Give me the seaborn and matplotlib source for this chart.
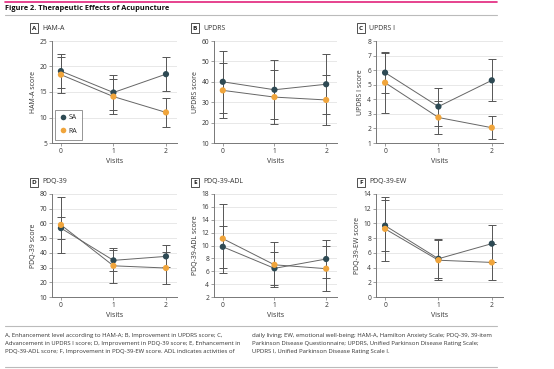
import pandas as pd
import matplotlib.pyplot as plt
import seaborn as sns
from matplotlib.patches import Rectangle

visits = [0, 1, 2]
groups = ["SA", "RA"]

ham_sa = [19.1, 14.9, 18.5]
ham_sa_sd = [3.3, 3.5, 3.3]
ham_ra = [18.4, 14.1, 11.0]
ham_ra_sd = [3.5, 3.5, 2.9]

updrs_sa = [40.0, 36.1, 38.8]
updrs_sa_sd = [15.1, 14.5, 14.7]
updrs_ra = [35.8, 32.5, 31.1]
updrs_ra_sd = [13.6, 13.2, 12.4]

updrs1_sa = [5.83, 3.5, 5.3]
updrs1_sa_sd = [1.42, 1.3, 1.45]
updrs1_ra = [5.14, 2.75, 2.05]
updrs1_ra_sd = [2.07, 1.15, 0.8]

pdq_sa = [56.8, 34.9, 37.6]
pdq_sa_sd = [7.3, 7.0, 7.5]
pdq_ra = [59.0, 31.2, 29.7]
pdq_ra_sd = [19.0, 11.8, 11.2]

adl_sa = [9.8, 6.45, 7.9]
adl_sa_sd = [3.3, 2.55, 3.0]
adl_ra = [11.07, 7.0, 6.4]
adl_ra_sd = [5.37, 3.5, 3.45]

ew_sa = [9.7, 5.2, 7.25]
ew_sa_sd = [3.5, 2.65, 2.5]
ew_ra = [9.26, 5.0, 4.7]
ew_ra_sd = [4.3, 2.7, 2.45]

panels = [
    ("A", "HAM-A", "HAM-A score", ham_sa, ham_sa_sd, ham_ra, ham_ra_sd, (5, 25), [5, 10, 15, 20, 25]),
    ("B", "UPDRS", "UPDRS score", updrs_sa, updrs_sa_sd, updrs_ra, updrs_ra_sd, (10, 60), [10, 20, 30, 40, 50, 60]),
    ("C", "UPDRS I", "UPDRS I score", updrs1_sa, updrs1_sa_sd, updrs1_ra, updrs1_ra_sd, (1, 8), list(range(1, 9))),
    ("D", "PDQ-39", "PDQ-39 score", pdq_sa, pdq_sa_sd, pdq_ra, pdq_ra_sd, (10, 80), list(range(10, 81, 10))),
    ("E", "PDQ-39-ADL", "PDQ-39-ADL score", adl_sa, adl_sa_sd, adl_ra, adl_ra_sd, (2, 18), list(range(2, 19, 2))),
    ("F", "PDQ-39-EW", "PDQ-39-EW score", ew_sa, ew_sa_sd, ew_ra, ew_ra_sd, (0, 14), list(range(0, 15, 2))),
]

colors = {"SA": "#2e4a54", "RA": "#f0a53c"}

sns.set_theme(style="white")
plt.rcParams["font.family"] = ["Open Sans", "DejaVu Sans"]

W, H = 554, 369
fig = plt.figure(figsize=(W / 100, H / 100), dpi=100)

# axes boxes in pixels: left, top, width, height
boxes = [(52, 41, 125, 102), (214, 41, 123, 102), (376, 41, 127, 102),
         (52, 194, 125, 103), (214, 194, 123, 103), (376, 194, 127, 103)]
label_pos = [(30, 28), (191, 28), (357, 28), (30, 182), (191, 182), (357, 182)]

for (letter, title, ylabel, sa, sa_sd, ra, ra_sd, ylim, yticks), box, lp in zip(panels, boxes, label_pos):
    l, t, w, h = box
    ax = fig.add_axes([l / W, 1 - (t + h) / H, w / W, h / H])
    df = pd.DataFrame({
        "Visits": visits * 2,
        "score": sa + ra,
        "sd": sa_sd + ra_sd,
        "group": ["SA"] * 3 + ["RA"] * 3,
    })
    for g in groups:
        sub = df[df.group == g]
        ax.errorbar(sub.Visits, sub.score, yerr=sub.sd, fmt="none", ecolor="#555555",
                    elinewidth=0.7, capsize=2.8, capthick=0.7, zorder=2)
    sns.lineplot(data=df, x="Visits", y="score", hue="group", hue_order=groups,
                 palette=["#666666", "#666666"], linewidth=0.7, legend=False, ax=ax, zorder=3)
    sns.scatterplot(data=df, x="Visits", y="score", hue="group", hue_order=groups,
                    palette=colors, s=20, edgecolor="none", legend=(letter == "A"), ax=ax, zorder=4)
    ax.set_xlim(-0.17, 2.21)
    ax.set_ylim(*ylim)
    ax.set_yticks(yticks)
    ax.set_xticks(visits)
    ax.yaxis.grid(True, color="#e4e4e4", linewidth=0.6)
    ax.set_axisbelow(True)
    for s in ["top", "right"]:
        ax.spines[s].set_visible(False)
    for s in ["left", "bottom"]:
        ax.spines[s].set_color("#777777")
        ax.spines[s].set_linewidth(0.7)
    ax.tick_params(axis="both", labelsize=4.8, length=2, width=0.5, color="#777777",
                   pad=1.5, labelcolor="#333333", left=True, bottom=True)
    ax.set_xlabel("Visits", fontsize=5, color="#333333", labelpad=2)
    ax.set_ylabel(ylabel, fontsize=5, color="#333333", labelpad=2)
    if letter == "A":
        leg = ax.legend(loc="lower left", fontsize=5, frameon=True, handletextpad=0.4,
                        borderpad=0.7, labelspacing=0.9, markerscale=0.9, handlelength=0.8,
                        borderaxespad=0.5)
        leg.get_frame().set_edgecolor("#666666")
        leg.get_frame().set_linewidth(0.6)
        leg.get_frame().set_boxstyle("square", pad=0)
    # panel letter box and title
    fig.patches.append(Rectangle((lp[0] / W, 1 - (lp[1] + 4.5) / H), 8 / W, 9 / H,
                                 transform=fig.transFigure, fill=False,
                                 edgecolor="#333333", linewidth=0.6))
    fig.text((lp[0] + 4) / W, 1 - lp[1] / H, letter, fontsize=4.6, ha="center", va="center",
             color="#222222", fontweight="bold")
    fig.text((lp[0] + 12) / W, 1 - lp[1] / H, title, fontsize=5, ha="left", va="center",
             color="#333333")

# header
fig.add_artist(plt.Line2D([5 / W, 497 / W], [1 - 2 / H, 1 - 2 / H], color="#e2237c", linewidth=1.2))
fig.text(5 / W, 1 - 9 / H, "Figure 2. Therapeutic Effects of Acupuncture", fontsize=5.3,
         fontweight="bold", color="#111111", va="center")
fig.add_artist(plt.Line2D([5 / W, 497 / W], [1 - 15 / H, 1 - 15 / H], color="#bbbbbb", linewidth=0.8))

# caption
fig.add_artist(plt.Line2D([5 / W, 497 / W], [1 - 326 / H, 1 - 326 / H], color="#bbbbbb", linewidth=0.8))
left_lines = ["A, Enhancement level according to HAM-A; B, Improvement in UPDRS score; C,",
              "Advancement in UPDRS I score; D, Improvement in PDQ-39 score; E, Enhancement in",
              "PDQ-39-ADL score; F, Improvement in PDQ-39-EW score. ADL indicates activities of"]
right_lines = ["daily living; EW, emotional well-being; HAM-A, Hamilton Anxiety Scale; PDQ-39, 39-item",
               "Parkinson Disease Questionnaire; UPDRS, Unified Parkinson Disease Rating Scale;",
               "UPDRS I, Unified Parkinson Disease Rating Scale I."]
for i, (a, b) in enumerate(zip(left_lines, right_lines)):
    y = 1 - (335 + 8 * i) / H
    fig.text(5 / W, y, a, fontsize=4.3, color="#333333", va="center")
    fig.text(252 / W, y, b, fontsize=4.3, color="#333333", va="center")
fig.add_artist(plt.Line2D([5 / W, 497 / W], [1 - 367 / H, 1 - 367 / H], color="#bbbbbb", linewidth=0.8))

fig.savefig("out.png", dpi=100)
